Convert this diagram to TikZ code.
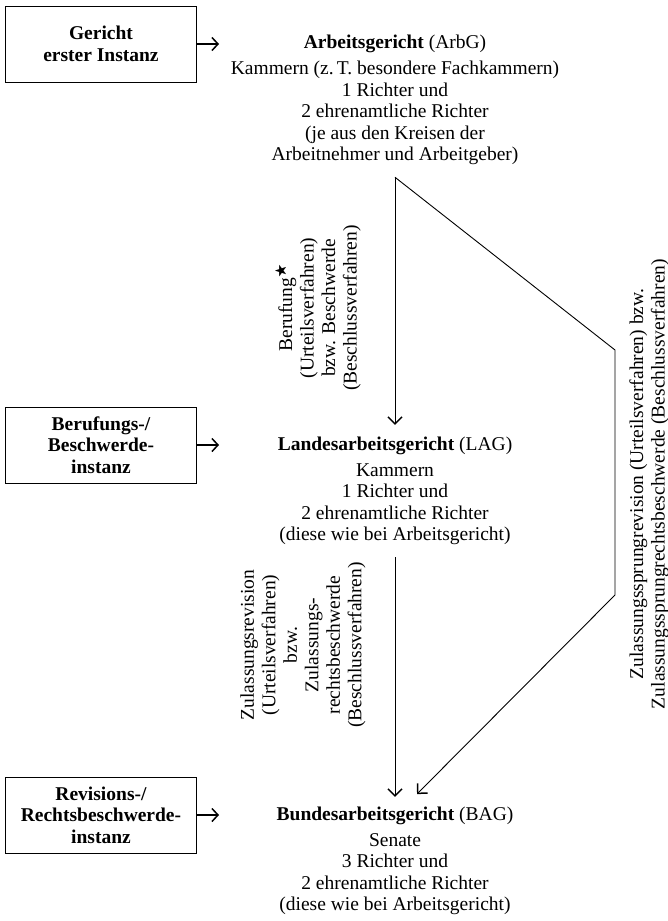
\documentclass[tikz,border=0pt]{standalone}
\usepackage{fontspec}
\usepackage{amssymb}
\setmainfont{Liberation Serif}
\usetikzlibrary{positioning, arrows.meta}

\tikzset{
  instanz/.style={draw, line width=1pt, minimum width=191pt, minimum height=76pt,
    align=center, font=\bfseries\fontsize{19.5}{21.5}\selectfont},
  gericht/.style={inner sep=0pt, font=\fontsize{19.5}{21.5}\selectfont},
  info/.style={inner sep=0pt, align=center, font=\fontsize{19.5}{21.5}\selectfont},
  weg/.style={rotate=90, inner sep=0pt, align=center, font=\fontsize{19.5}{21.5}\selectfont},
  pfeil/.style={-{Straight Barb[length=7pt,width=14pt,line width=1.5pt]}, line width=0.9pt},
  hinweis/.style={-{Straight Barb[length=6pt,width=13pt,line width=1.5pt]}, line width=1.4pt},
}

\begin{document}
\begin{tikzpicture}[x=1pt, y=-1pt]
    \useasboundingbox (0,0) rectangle (668,921);

    % Instanzen
    \node[instanz] (erst) at (101,44) {Gericht\\erster Instanz};
    \node[instanz] (zweit) at (101,445) {Berufungs-/\\Beschwerde-\\instanz};
    \node[instanz] (dritt) at (101,815) {Revisions-/\\Rechtsbeschwerde-\\instanz};

    \foreach \b in {erst, zweit, dritt}
        \draw[hinweis] (\b.east) -- ([xshift=22pt]\b.east);

    % Gerichte
    \node[gericht] (arbg) at (395,44) {\textbf{Arbeitsgericht} (ArbG)};
    \node[info, below=8pt of arbg] (arbginfo) {Kammern (z.\,T. besondere Fachkammern)\\1 Richter und\\2 ehrenamtliche Richter\\(je aus den Kreisen der\\Arbeitnehmer und Arbeitgeber)};
    \node[gericht] (lag) at (395,446) {\textbf{Landesarbeitsgericht} (LAG)};
    \node[info, below=8pt of lag] (laginfo) {Kammern\\1 Richter und\\2 ehrenamtliche Richter\\(diese wie bei Arbeitsgericht)};
    \node[gericht] (bag) at (395,816) {\textbf{Bundesarbeitsgericht} (BAG)};
    \node[info, below=8pt of bag] (baginfo) {Senate\\3 Richter und\\2 ehrenamtliche Richter\\(diese wie bei Arbeitsgericht)};

    % Rechtsmittel
    \coordinate (gabel) at ([yshift=-12pt]arbginfo.south);
    \coordinate (knick1) at (615,350);
    \coordinate (knick2) at (615,595);
    \coordinate (ziel) at (417,794);

    \draw[pfeil, shorten >=12pt] (gabel) -- (gabel |- lag.north);
    \draw[pfeil, shorten <=12pt, shorten >=10pt] (laginfo.south) -- (bag.north);
    \draw[pfeil] (gabel) -- (knick1) -- (knick2) -- (ziel);

    \node[weg] (berufung) at (318,308) {Berufung$^\bigstar$\\(Urteilsverfahren)\\bzw. Beschwerde\\(Beschlussverfahren)};
    \node[weg] (zulrev) at (303,645) {Zulassungsrevision\\(Urteilsverfahren)\\bzw.\\Zulassungs-\\rechtsbeschwerde\\(Beschlussverfahren)};
    \node[weg] (sprung) at (649,484) {Zulassungssprungrevision (Urteilsverfahren) bzw.\\Zulassungssprungrechtsbeschwerde (Beschlussverfahren)};
\end{tikzpicture}
\end{document}
